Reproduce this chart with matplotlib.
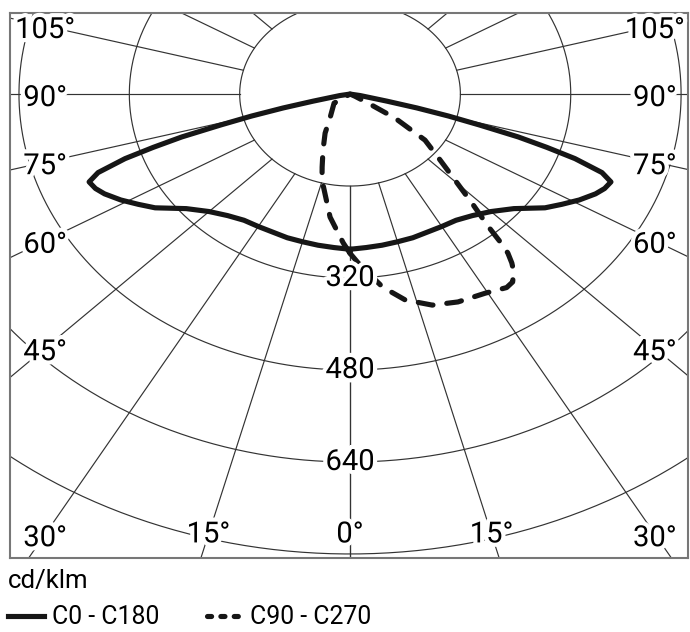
import numpy as np
import matplotlib.pyplot as plt
import matplotlib.patheffects as pe
from matplotlib.lines import Line2D

plt.rcParams['font.family'] = ['Roboto', 'DejaVu Sans']

# luminous intensity (cd/klm) against gamma angle (deg, 0 = straight down)
c0_gamma = [0, 5, 10, 15, 20, 25, 30, 35, 40, 45, 50, 55, 58, 61, 64, 66, 68,
            69.5, 71, 72, 73, 74, 75, 76, 77, 80, 90]
c0_int = [270, 268, 267, 266, 266, 265, 266, 268, 276, 289, 310, 345, 362, 380,
          396, 404, 408, 390, 345, 300, 255, 195, 148, 100, 55, 15, 0]

c90_gamma = [0, 2.3, 8, 12.6, 18, 23.4, 29.5, 34, 35.8, 37.5, 38.6, 39.6, 40.3,
             41, 43, 45.5, 49.3, 53.6, 57.4, 59, 62, 90]
c90_int = [277, 294, 339, 367, 386, 394, 398, 406, 403, 390, 376, 359, 335,
           306, 259, 213, 168, 135, 77, 30, 8, 0]

c270_gamma = [0, 2.2, 7.7, 15.2, 17.7, 21.9, 28, 34.8, 55.7, 90]
c270_int = [277, 259, 216, 155, 133, 105, 77, 51, 28, 0]

ring_values = [160, 320, 480, 640, 800]
ring_labels = [320, 480, 640]
ray_angles = list(range(0, 181, 15))
angle_labels = [0, 15, 30, 45, 60, 75, 90, 105]

legend_title = "cd/klm"
series_names = ["C0 - C180", "C90 - C270"]

CURVE = "#161616"
GRID = "#333333"


def to_xy(gamma, intensity, side=1):
    g = np.radians(np.asarray(gamma, dtype=float))
    r = np.asarray(intensity, dtype=float)
    return side * r * np.sin(g), -r * np.cos(g)


fig = plt.figure(figsize=(6.9, 6.32), dpi=100)
ax = fig.add_axes([10 / 690, 74 / 632, 678 / 690, 545 / 632])

# grid: rings and rays
t = np.linspace(0, 2 * np.pi, 721)
for r in ring_values:
    ax.plot(r * np.sin(t), r * np.cos(t), color=GRID, lw=0.85, zorder=1)
for a in ray_angles:
    for side in (-1, 1):
        x, y = to_xy([a, a], [160, 3000], side)
        ax.plot(x, y, color=GRID, lw=0.85, zorder=1)

# C0 - C180, symmetric
xr, yr = to_xy(c0_gamma, c0_int, 1)
ax.plot(np.r_[xr, -xr[::-1]], np.r_[yr, yr[::-1]], color=CURVE, lw=3.7,
        solid_joinstyle='round', zorder=3)

# C90 - C270
x90, y90 = to_xy(c90_gamma, c90_int, 1)
x270, y270 = to_xy(c270_gamma, c270_int, -1)
ax.plot(np.r_[x90, x270[::-1]], np.r_[y90, y270[::-1]], color=CURVE, lw=3.7,
        linestyle=(0, (2.9, 2.7)), dash_capstyle='round', zorder=3)

halo = [pe.withStroke(linewidth=6, foreground='white')]
side_x, bottom_y = 442, -766
for a in angle_labels:
    g = np.radians(a)
    for side in ((1,) if a == 0 else (-1, 1)):
        if np.cos(g) > 0 and bottom_y * -np.tan(g) <= side_x:
            x, y = side * -bottom_y * np.tan(g), bottom_y
        else:
            x, y = side * side_x, -side_x * np.cos(g) / np.sin(g) - 7
        ax.text(x, y, f"{a}°", ha='center', va='center', fontsize=21,
                path_effects=halo, zorder=5)
for v in ring_labels:
    ax.text(0, -v, str(v), ha='center', va='center', fontsize=21,
            path_effects=halo, zorder=5)

ax.set_xlim(-493, 490)
ax.set_ylim(-807, 141)
ax.set_xticks([])
ax.set_yticks([])
for s in ax.spines.values():
    s.set_color('#777777')
    s.set_linewidth(1.5)

handles = [
    Line2D([], [], color=CURVE, lw=3.7),
    Line2D([], [], color=CURVE, lw=3.7, linestyle=(0, (0.8, 1.8)),
           dash_capstyle='round'),
]
fig.legend(handles, series_names, loc='lower left',
           bbox_to_anchor=(0.012, 0.004), ncol=2, frameon=False,
           title=legend_title, title_fontsize=18.5, fontsize=17.8,
           handlelength=1.45, handletextpad=0.3, columnspacing=1.95,
           alignment='left', borderaxespad=0, borderpad=0)

fig.savefig("out.png", dpi=100)
